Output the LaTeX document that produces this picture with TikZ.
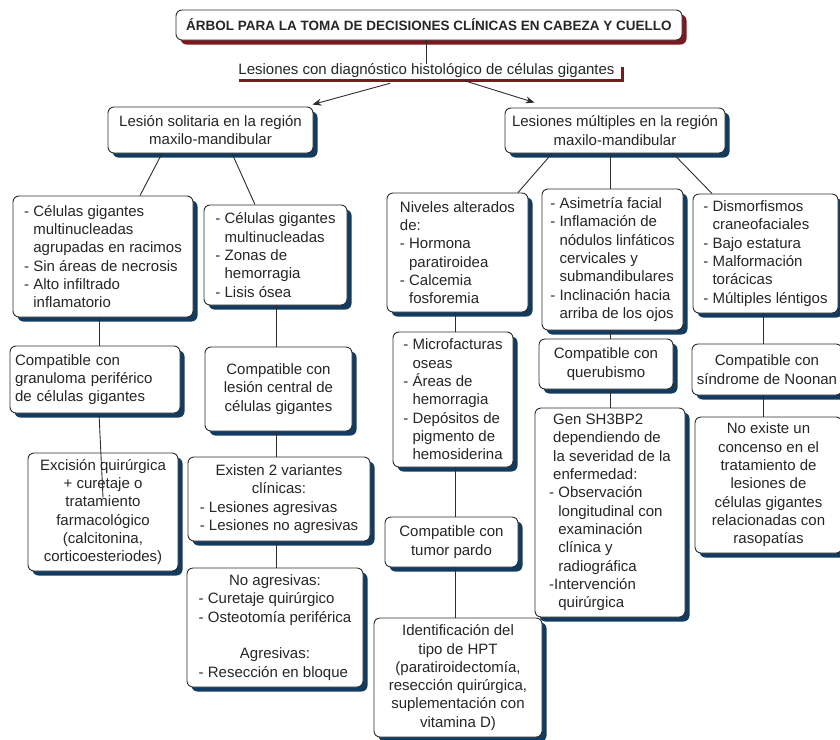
\documentclass[tikz,border=0pt]{standalone}
\usepackage{fontspec}
\setmainfont{Liberation Sans}
\usepackage{tikz}
\usetikzlibrary{arrows.meta, positioning, calc, shadows}
\definecolor{navyshade}{RGB}{19,58,95}
\definecolor{wineshade}{RGB}{122,26,31}
\definecolor{linecolor}{RGB}{45,45,45}
\newcommand{\indt}{\hphantom{- }}
\newlength{\ctrwd}
\newcommand{\ctrline}[2]{\settowidth{\ctrwd}{#1}\makebox[\ctrwd][c]{#2}}

\begin{document}
\begin{tikzpicture}[x=1pt, y=-1pt,
    roundbox/.style={draw=linecolor, line width=0.9pt, rounded corners=6pt, fill=white,
      text=black!85, inner sep=0pt, align=center, font=\fontsize{15}{18.3}\selectfont},
    cbox/.style={roundbox, drop shadow={shadow xshift=4.5pt, shadow yshift=-4.5pt, fill=navyshade, opacity=1}},
    titlebox/.style={roundbox, drop shadow={shadow xshift=4.5pt, shadow yshift=-4.5pt, fill=wineshade, opacity=1},
      font=\bfseries\fontsize{13.5}{16}\selectfont},
    link/.style={draw=linecolor, line width=0.9pt},
    arr/.style={link, -{Stealth[length=9pt, width=7pt]}}]
  \useasboundingbox (0,0) rectangle (840,739);

  % title and subtitle
  \node[titlebox, minimum width=506, minimum height=30] (title) at (429,25)
    {ÁRBOL PARA LA TOMA DE DECISIONES CLÍNICAS EN CABEZA Y CUELLO};
  \node[inner sep=0pt, text=black!85, font=\fontsize{15}{18.3}\selectfont] (sub) at (426.5,71)
    {Lesiones con diagnóstico histológico de células gigantes};
  \draw[wineshade, line width=3pt] ($(sub.east)+(8,-4)$) |- ($(sub.south west)+(1,2.5)$);

  % second level
  \node[cbox, minimum width=205, minimum height=46] (lsol) at (210.5,130)
    {Lesión solitaria en la región\\maxilo-mandibular};
  \node[cbox, minimum width=220, minimum height=45] (lmul) at (615,130.5)
    {Lesiones múltiples en la región\\maxilo-mandibular};

  % solitary branch
  \node[cbox, align=left, minimum width=180, minimum height=121] (a1) at (103,256.5)
    {- Células gigantes\\\indt multinucleadas\\\indt agrupadas en racimos\\- Sin áreas de necrosis\\- Alto infiltrado\\\indt inflamatorio};
  \node[cbox, align=left, minimum width=143, minimum height=100] (a2) at (275.5,255)
    {- Células gigantes\\\indt multinucleadas\\- Zonas de\\\indt hemorragia\\- Lisis ósea};
  \node[cbox, align=left, text width=160, inner xsep=5pt, minimum height=67] (gran) at (95,379.5)
    {Compatible con\\granuloma periférico\\de células gigantes};
  \node[cbox, minimum width=147, minimum height=84] (lcen) at (278.5,389)
    {Compatible con\\lesión central de\\células gigantes};
  \node[cbox, minimum width=150, minimum height=118] (exc) at (103,512)
    {Excisión quirúrgica\\+ curetaje o\\tratamiento\\farmacológico\\(calcitonina,\\corticoesteriodes)};
  \node[cbox, align=left, minimum width=182, minimum height=84] (var) at (279,499)
    {\ctrline{- Lesiones no agresivas}{Existen 2 variantes}\\\ctrline{- Lesiones no agresivas}{clínicas:}\\- Lesiones agresivas\\- Lesiones no agresivas};
  \node[cbox, align=left, minimum width=176, minimum height=119] (noag) at (275,627.5)
    {\ctrline{- Osteotomía periférica}{No agresivas:}\\- Curetaje quirúrgico\\- Osteotomía periférica\\[18.3pt]\ctrline{- Osteotomía periférica}{Agresivas:}\\- Resección en bloque};

  % multiple branch
  \node[cbox, align=left, minimum width=141, minimum height=119] (b1) at (457.5,252.5)
    {Niveles alterados\\de:\\- Hormona\\\indt paratiroidea\\- Calcemia\\\indt fosforemia};
  \node[cbox, align=left, minimum width=141, minimum height=141] (b2) at (612.5,259.5)
    {- Asimetría facial\\- Inflamación de\\\indt nódulos linfáticos\\\indt cervicales y\\\indt submandibulares\\- Inclinación hacia\\\indt arriba de los ojos};
  \node[cbox, align=left, minimum width=145, minimum height=119] (b3) at (765.5,253.5)
    {- Dismorfismos\\\indt craneofaciales\\- Bajo estatura\\- Malformación\\\indt torácicas\\- Múltiples léntigos};
  \node[cbox, align=left, minimum width=120, minimum height=135] (micro) at (453,399.5)
    {- Microfacturas\\\indt oseas\\- Áreas de\\\indt hemorragia\\- Depósitos de\\\indt pigmento de\\\indt hemosiderina};
  \node[cbox, minimum width=133, minimum height=50] (tpardo) at (451.5,542)
    {Compatible con\\tumor pardo};
  \node[cbox, minimum width=168, minimum height=119] (hpt) at (458,677.5)
    {Identificación del\\tipo de HPT\\(paratiroidectomía,\\resección quirúrgica,\\suplementación con\\vitamina D)};
  \node[cbox, minimum width=134, minimum height=50] (queru) at (606,364)
    {Compatible con\\querubismo};
  \node[cbox, align=left, minimum width=150, minimum height=209] (gen) at (610,512.5)
    {\hspace*{4pt}Gen SH3BP2\\\hspace*{4pt}dependiendo de\\\hspace*{4pt}la severidad de la\\\hspace*{4pt}enfermedad:\\- Observación\\\indt longitudinal con\\\indt examinación\\\indt clínica y\\\indt radiográfica\\-Intervención\\\indt quirúrgica};
  \node[cbox, minimum width=150, minimum height=51] (noonan) at (767,369.5)
    {Compatible con\\síndrome de Noonan};
  \node[cbox, minimum width=147, minimum height=136] (noex) at (768.5,485)
    {No existe un\\concenso en el\\tratamiento de\\lesiones de\\células gigantes\\relacionadas con\\rasopatías};

  % column guides
  \coordinate (c1) at (99,0);
  \coordinate (c2) at (276,0);
  \coordinate (c3) at (455,0);
  \coordinate (c4) at (610,0);
  \coordinate (c5) at (763,0);
  \coordinate (excin) at ($(exc.north -| c1)+(4,45)$);

  % connectors
  \draw[link] (title.south -| sub.north) -- (sub.north);
  \draw[arr] ($(sub.south)+(-36.5,5)$) -- ($(lsol.north east)+(-1,-2)$);
  \draw[arr] ($(sub.south)+(36.5,2)$) -- ($(lmul.north west)+(30,-5)$);
  \draw[link] ($(lsol.south)+(-48.5,0)$) -- ($(a1.north)+(37,0)$);
  \draw[link] ($(lsol.south)+(21.5,0)$) -- ($(a2.north)+(-20.5,0)$);
  \draw[link] ($(lmul.south)+(-63,0)$) -- ($(b1.north)+(60.5,0)$);
  \draw[link] (lmul.south -| c4) -- (b2.north -| c4);
  \draw[link] ($(lmul.south)+(58,0)$) -- ($(b3.north)+(-53.5,0)$);
  \draw[link] (a1.south -| c1) -- (gran.north -| c1);
  \draw[link] (gran.south -| c1) -- (excin);
  \draw[link] (a2.south -| c2) -- (lcen.north -| c2);
  \draw[link] (lcen.south -| c2) -- (var.north -| c2);
  \draw[link] (var.south -| c2) -- (noag.north -| c2);
  \draw[link] (b1.south -| c3) -- (micro.north -| c3);
  \draw[link] (micro.south -| c3) -- (tpardo.north -| c3);
  \draw[link] (tpardo.south -| c3) -- (hpt.north -| c3);
  \draw[link] (b2.south -| c4) -- (queru.north -| c4);
  \draw[link] (queru.south -| c4) -- (gen.north -| c4);
  \draw[link] (b3.south -| c5) -- (noonan.north -| c5);
  \draw[link] (noonan.south -| c5) -- (noex.north -| c5);
\end{tikzpicture}
\end{document}
